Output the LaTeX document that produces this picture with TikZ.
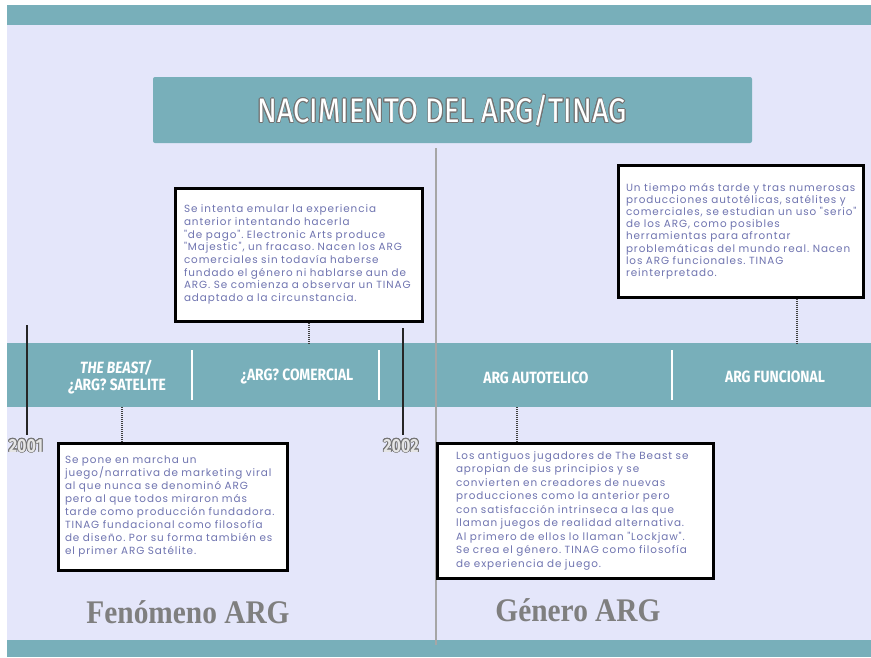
\documentclass[tikz,border=0pt]{standalone}
\usepackage{fontspec}
\usepackage{graphicx}
\usepackage[copies]{contour}
\setmainfont{Poppins}
\newfontfamily\boxfont[LetterSpace=9]{Poppins}
\newfontfamily\condfont[FakeStretch=0.85]{Fira Sans}
\newfontfamily\serifcond[FakeStretch=0.89]{Liberation Serif}
\definecolor{tealband}{HTML}{78AFBA}
\definecolor{lav}{HTML}{E4E6FA}
\definecolor{boxtext}{HTML}{6F74B0}
\definecolor{labgray}{HTML}{7F7F7F}
\frenchspacing
\tikzset{
  infobox/.style={draw=black, line width=3pt, fill=white, align=left, text=boxtext,
    inner ysep=0pt, font=\frenchspacing\boxfont\fontsize{10.4}{12.7}\selectfont},
  bandlabel/.style={text=white, align=center, font=\condfont\bfseries\fontsize{16.3}{18}\selectfont},
  divider/.style={draw=white, line width=2pt},
  dotline/.style={draw=black!75, line width=2pt, dash pattern=on 1pt off 1pt},
  yearline/.style={draw=black!85, line width=2pt},
  yearlabel/.style={text=gray!20, font=\condfont\bfseries\fontsize{19}{20}\selectfont},
  biglabel/.style={text=labgray, font=\serifcond\bfseries\fontsize{33}{36}\selectfont}
}
\contourlength{0.7pt}
\begin{document}
\begin{tikzpicture}[x=1pt,y=-1pt]
\useasboundingbox (0,0) rectangle (871,657);
\fill[white] (0,0) rectangle (871,657);
\fill[lav] (7,5) rectangle (871,657);
\fill[tealband] (7,5) rectangle (871,25);
\fill[tealband] (7,640) rectangle (871,657);
% title
\node[fill=tealband, rounded corners=2pt, minimum width=599pt, minimum height=66pt, inner sep=0pt] (title) at (452.5,110) {};
\node[text=white, font=\condfont\fontsize{34}{36}\selectfont, inner sep=0pt] (titletext) at (442,111) {\contour{black!55}{NACIMIENTO DEL ARG/TINAG}};
% band
\node[fill=tealband, minimum width=864pt, minimum height=64pt, inner sep=0pt] (band) at (439,375) {};
\coordinate (dv1t) at (192,350); \coordinate (dv1b) at (192,400);
\coordinate (dv2t) at (379,350); \coordinate (dv2b) at (379,400);
\coordinate (dv3t) at (672,350); \coordinate (dv3b) at (672,400);
\draw[divider] (dv1t) -- (dv1b);
\draw[divider] (dv2t) -- (dv2b);
\draw[divider] (dv3t) -- (dv3b);
\node[bandlabel] (l1a) at (116,368) {\itshape THE BEAST/};
\node[bandlabel] (l1b) at (117,387) {¿ARG? SATELITE};
\node[bandlabel] (l2) at (297,377) {¿ARG? COMERCIAL};
\node[bandlabel] (l3) at (536,378) {ARG AUTOTELICO};
\node[bandlabel] (l4) at (775,377) {ARG FUNCIONAL};
% central line
\coordinate (ctop) at (436,148);
\coordinate (cbot) at (436,645);
\draw[gray!70, line width=2.5pt] (ctop) -- (cbot);
% info boxes
\node[infobox, minimum width=247pt, minimum height=133pt, text width=229pt, inner xsep=9pt] (b1) at (298.5,254.5) {%
Se intenta emular la experiencia\\
anterior intentando hacerla\\
"de pago". Electronic Arts produce\\
"Majestic", un fracaso. Nacen los ARG\\
comerciales sin todavía haberse\\
fundado el género ni hablarse aun de\\
ARG. Se comienza a observar un TINAG\\
adaptado a la circunstancia.};
\node[infobox, minimum width=245pt, minimum height=132pt, text width=229pt, inner xsep=8pt, font=\frenchspacing\boxfont\fontsize{10.4}{12.2}\selectfont] (b2) at (740.5,231) {%
Un tiempo más tarde y tras numerosas\\
producciones autotélicas, satélites y\\
comerciales, se estudian un uso "serio"\\
de los ARG, como posibles\\
herramientas para afrontar\\
problemáticas del mundo real. Nacen\\
los ARG funcionales. TINAG\\
reinterpretado.};
\node[infobox, minimum width=229pt, minimum height=127pt, text width=215pt, inner xsep=7pt, font=\frenchspacing\boxfont\fontsize{10.4}{13}\selectfont] (b3) at (172.5,506.5) {%
Se pone en marcha un\\
juego/narrativa de marketing viral\\
al que nunca se denominó ARG\\
pero al que todos miraron más\\
tarde como producción fundadora.\\
TINAG fundacional como filosofía\\
de diseño. Por su forma también es\\
el primer ARG Satélite.};
\node[infobox, minimum width=276pt, minimum height=135pt, text width=238pt, inner xsep=19pt, font=\frenchspacing\boxfont\fontsize{10.4}{13.5}\selectfont] (b4) at (575,510.5) {%
Los antiguos jugadores de The Beast se\\
apropian de sus principios y se\\
convierten en creadores de nuevas\\
producciones como la anterior pero\\
con satisfacción intrinseca a las que\\
llaman juegos de realidad alternativa.\\
Al primero de ellos lo llaman "Lockjaw".\\
Se crea el género. TINAG como filosofía\\
de experiencia de juego.};
% dotted connectors
\coordinate (d1) at (309,343);
\coordinate (d2) at (797,343);
\coordinate (d3) at (122,407);
\coordinate (d4) at (517,407);
\draw[dotline] (b1.south -| d1) -- (d1);
\draw[dotline] (b2.south -| d2) -- (d2);
\draw[dotline] (d3) -- (b3.north -| d3);
\draw[dotline] (d4) -- (b4.north -| d4);
% years
\node[yearlabel] (y2001) at (26,446) {\contour{black!55}{2001}};
\node[yearlabel] (y2002) at (401,446) {\contour{black!55}{2002}};
\coordinate (t2001) at (27,325);
\coordinate (t2002) at (403,328);
\draw[yearline] (t2001) -- (t2001 |- y2001.north);
\draw[yearline] (t2002) -- (t2002 |- y2002.north);
% bottom labels
\node[biglabel] (fen) at (188,612) {Fenómeno ARG};
\node[biglabel] (gen) at (578,610) {Género ARG};
\end{tikzpicture}
\end{document}
